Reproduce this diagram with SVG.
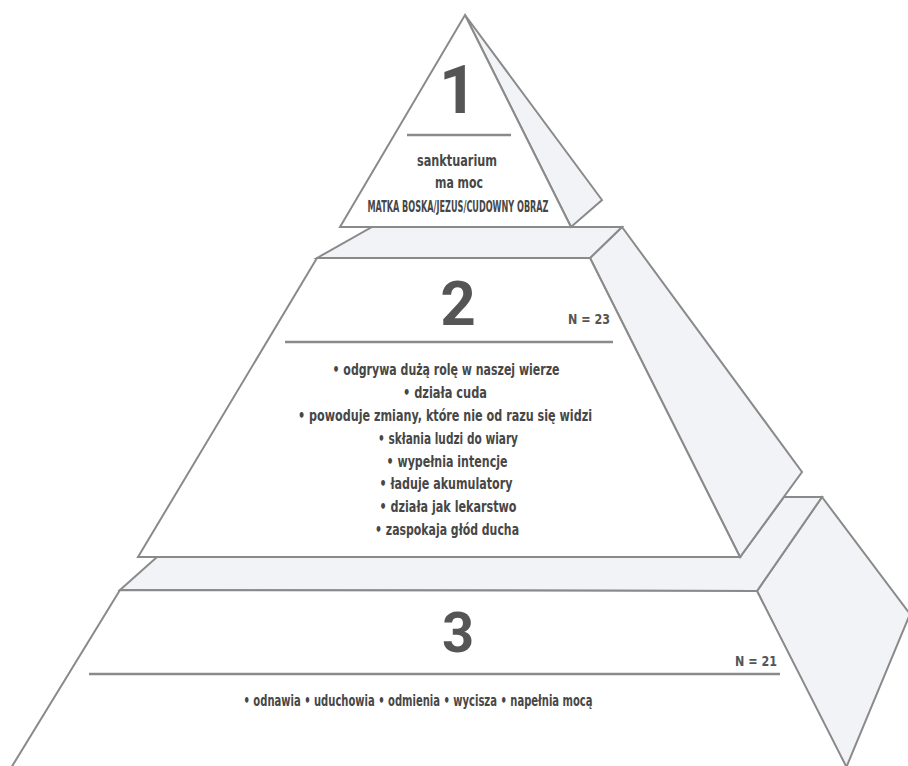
<svg xmlns="http://www.w3.org/2000/svg" width="908" height="766" viewBox="0 0 908 766">
<style>
.face{fill:#ffffff;stroke:#8a8a8a;stroke-width:2;stroke-linejoin:miter}
.shade{fill:#f1f3f6;stroke:#8a8a8a;stroke-width:2;stroke-linejoin:miter}
.rule{stroke:#8a8a8a;stroke-width:2.5}
.num{font-family:Roboto,'Liberation Sans',sans-serif;font-weight:700;fill:#555555;text-anchor:middle}
.t{font-family:'DejaVu Sans Condensed',Roboto,'Liberation Sans',sans-serif;font-weight:700;fill:#474747;text-anchor:middle;font-size:16.5px}
.n{font-family:'DejaVu Sans Condensed',Roboto,'Liberation Sans',sans-serif;font-weight:700;fill:#555555;text-anchor:end;font-size:13.5px}
</style>
<rect width="908" height="766" fill="#ffffff"/>
<g id="tier3">
  <polygon class="shade" points="822,497 910,614 846,768 757,591"/>
  <polygon class="shade" points="120,590 157,557 740,557 784,497 822,497 757,591"/>
  <polygon class="face" points="120,590 757,591 847,768 11,768"/>
  <text class="num" x="458" y="652" font-size="56">3</text>
  <text class="n" x="777" y="666" textLength="42" lengthAdjust="spacingAndGlyphs">N = 21</text>
  <line class="rule" x1="89" y1="674" x2="780" y2="674"/>
  <text class="t" x="418" y="706" textLength="349" lengthAdjust="spacingAndGlyphs">• odnawia • uduchowia • odmienia • wycisza • napełnia mocą</text>
</g>
<g id="tier2">
  <polygon class="shade" points="622,227 802,472 740,557 590,258"/>
  <polygon class="shade" points="317,258 372,227 622,227 590,258"/>
  <polygon class="face" points="317,258 590,258 740,557 138,557"/>
  <text class="num" x="458" y="325" font-size="62">2</text>
  <text class="n" x="610" y="324" textLength="42" lengthAdjust="spacingAndGlyphs">N = 23</text>
  <line class="rule" x1="285" y1="342" x2="613" y2="342"/>
  <text class="t" x="446" y="375" textLength="227" lengthAdjust="spacingAndGlyphs">• odgrywa dużą rolę w naszej wierze</text>
  <text class="t" x="445" y="398" textLength="84" lengthAdjust="spacingAndGlyphs">• działa cuda</text>
  <text class="t" x="445" y="421" textLength="294" lengthAdjust="spacingAndGlyphs">• powoduje zmiany, które nie od razu się widzi</text>
  <text class="t" x="448" y="444" textLength="140" lengthAdjust="spacingAndGlyphs">• skłania ludzi do wiary</text>
  <text class="t" x="447" y="467" textLength="121" lengthAdjust="spacingAndGlyphs">• wypełnia intencje</text>
  <text class="t" x="446" y="489" textLength="133" lengthAdjust="spacingAndGlyphs">• ładuje akumulatory</text>
  <text class="t" x="448" y="512" textLength="137" lengthAdjust="spacingAndGlyphs">• działa jak lekarstwo</text>
  <text class="t" x="447" y="535" textLength="144" lengthAdjust="spacingAndGlyphs">• zaspokaja głód ducha</text>
</g>
<g id="tier1">
  <polygon class="shade" points="465,15 602,200 571,227"/>
  <polygon class="face" points="465,15 571,227 340,227"/>
  <text class="num" x="458" y="113" font-size="66">1</text>
  <line class="rule" x1="407" y1="135" x2="511" y2="135"/>
  <text class="t" x="457" y="166" textLength="80" lengthAdjust="spacingAndGlyphs">sanktuarium</text>
  <text class="t" x="459" y="188" textLength="48" lengthAdjust="spacingAndGlyphs">ma moc</text>
  <text class="t" x="458" y="212" font-size="9" textLength="181" lengthAdjust="spacingAndGlyphs">MATKA BOSKA/JEZUS/CUDOWNY OBRAZ</text>
</g>
<g id="connectors"></g>
</svg>
